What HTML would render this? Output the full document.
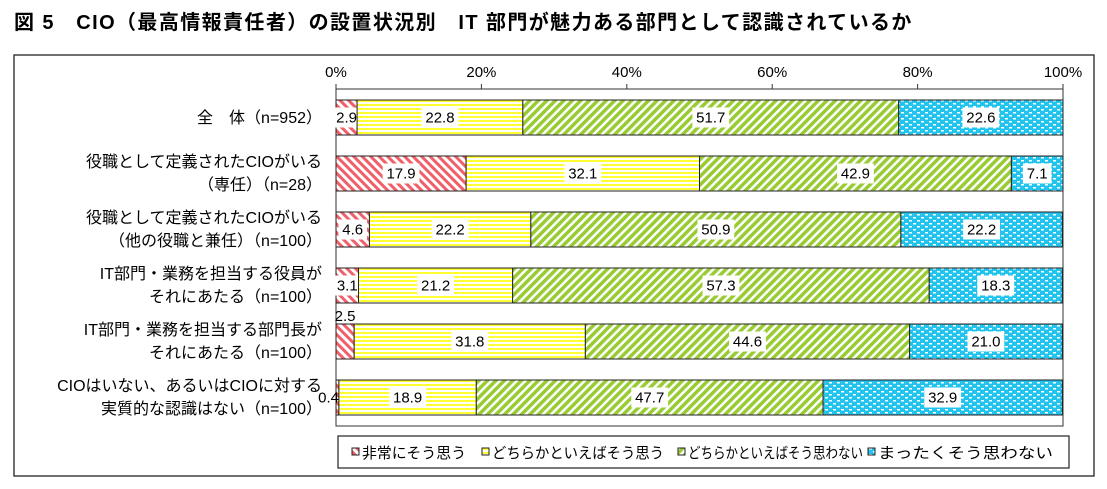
<!DOCTYPE html>
<html><head><meta charset="utf-8"><style>
body{margin:0;width:1107px;height:489px;background:#fff;font-family:"Liberation Sans","Noto Sans CJK JP",sans-serif;overflow:hidden;position:relative}
.t{position:absolute;left:14px;top:6px;font-size:20px;letter-spacing:1.4px;font-weight:bold;white-space:nowrap}
</style></head><body>
<div class="t">図 5　CIO（最高情報責任者）の設置状況別　IT 部門が魅力ある部門として認識されているか</div>
<svg id="c" width="1107" height="489" style="position:absolute;left:0;top:0">
<defs>
<pattern id="p0" width="6" height="6" patternUnits="userSpaceOnUse" patternTransform="rotate(-45)"><rect width="6" height="6" fill="#fff"/><rect width="3" height="6" fill="#f0606a"/></pattern>
<pattern id="p1" width="4" height="4" patternUnits="userSpaceOnUse"><rect width="4" height="4" fill="#fff"/><rect width="4" height="2" fill="#ffff33"/></pattern>
<pattern id="p2" width="6" height="6" patternUnits="userSpaceOnUse" patternTransform="rotate(45)"><rect width="6" height="6" fill="#fff"/><rect width="3.5" height="6" fill="#99cc33"/></pattern>
<pattern id="p3" width="8" height="6" patternUnits="userSpaceOnUse"><rect width="8" height="6" fill="#22c4ee"/><rect x="1" y="1" width="3" height="1.5" fill="#fff"/><rect x="5" y="4" width="3" height="1.5" fill="#fff"/></pattern>
</defs>
</svg>
<script>
const categories=[["全　体（n=952）"],["役職として定義されたCIOがいる","（専任）（n=28）"],["役職として定義されたCIOがいる","（他の役職と兼任）（n=100）"],["IT部門・業務を担当する役員が","それにあたる（n=100）"],["IT部門・業務を担当する部門長が","それにあたる（n=100）"],["CIOはいない、あるいはCIOに対する","実質的な認識はない（n=100）"]];
const seriesNames=["非常にそう思う","どちらかといえばそう思う","どちらかといえばそう思わない","まったくそう思わない"];
const s0=[2.9,17.9,4.6,3.1,2.5,0.4];
const s1=[22.8,32.1,22.2,21.2,31.8,18.9];
const s2=[51.7,42.9,50.9,57.3,44.6,47.7];
const s3=[22.6,7.1,22.2,18.3,21.0,32.9];
const ticks=[0,20,40,60,80,100];
const svg=document.getElementById('c');const NS='http://www.w3.org/2000/svg';
function el(t,a,p){const e=document.createElementNS(NS,t);for(const k in a)e.setAttribute(k,a[k]);(p||svg).appendChild(e);return e;}
const X0=336,X1=1063,Y0=89,Y1=426;
const x=v=>X0+(X1-X0)*v/100;
const rowY=i=>100+56*i;const BH=35;
let e=el('rect',{x:14,y:55,width:1080,height:421,fill:'none',stroke:'#222','stroke-width':1.3});

e=el('rect',{x:X0,y:Y0,width:X1-X0,height:Y1-Y0,fill:'none',stroke:'#333','stroke-width':1});

ticks.forEach(t=>{const l=el('line',{x1:x(t),x2:x(t),y1:Y0-5,y2:Y0,stroke:'#333'});

const tx=el('text',{x:x(t),y:77,'text-anchor':'middle','font-size':15});tx.textContent=t+'%';
});
const series=[s0,s1,s2,s3];
categories.forEach((c,i)=>{
 const y=rowY(i);
 c.forEach((ln,j)=>{const t=el('text',{x:322,y:c.length==1?y+23:y+11+j*23,'text-anchor':'end','font-size':16});t.textContent=ln;
 });
 let acc=0;
 series.forEach((s,k)=>{const v=s[i];
  const r=el('rect',{x:x(acc),y:y,width:x(acc+v)-x(acc),height:BH,fill:'url(#p'+k+')',stroke:'#222','stroke-width':1});
  
  let cx=(x(acc)+x(acc+v))/2,cy=y+BH/2+5,anchor='middle';
  if(v<1){cx=x(acc)+3;anchor='end';}else if(v<2.8){cy=y-3;}
  const txt=v.toFixed(1);const w=txt.length*8.2+4;
  if(v>=2.8){const b=el('rect',{x:cx-w/2,y:y+BH/2-10,width:w,height:20,fill:'#fff'});}
  const t=el('text',{x:cx,y:cy,'text-anchor':anchor,'font-size':15});t.textContent=txt;
  
  acc+=v;});
});
e=el('rect',{x:338,y:436,width:731,height:32,fill:'#fff',stroke:'#222','stroke-width':1.2});

const lx=[352,482,678,868];
const lw=[104,172,175,175];
seriesNames.forEach((n,k)=>{const r=el('rect',{x:lx[k],y:448,width:7,height:7,fill:'url(#p'+k+')',stroke:'#222'});

const t=el('text',{x:lx[k]+10,y:458,'font-size':15,textLength:lw[k],lengthAdjust:'spacingAndGlyphs'});t.textContent=n;
});
</script>
</body></html>
